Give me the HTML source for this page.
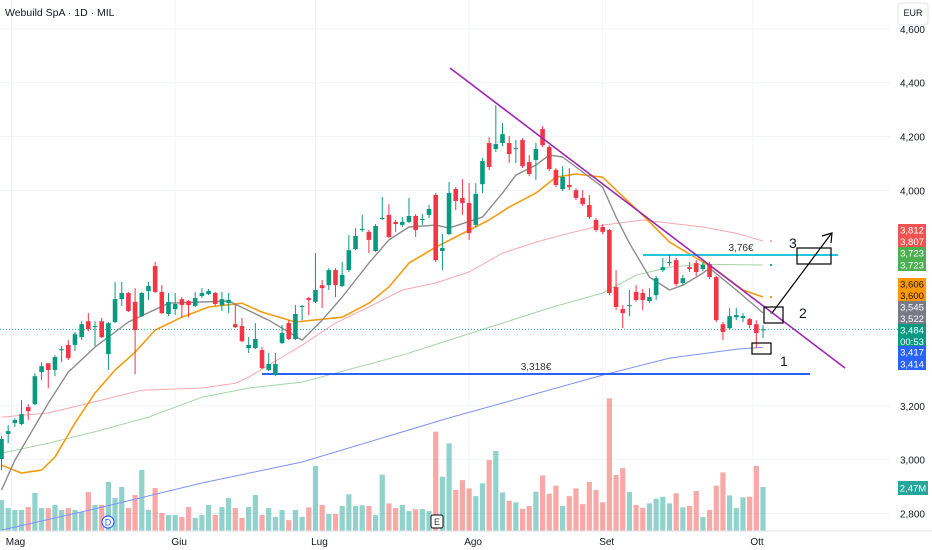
<!DOCTYPE html>
<html><head><meta charset="utf-8">
<style>
html,body{margin:0;padding:0;background:#fff;}
#wrap{position:relative;width:932px;height:550px;overflow:hidden;font-family:"Liberation Sans",sans-serif;}
svg text{font-family:"Liberation Sans",sans-serif;}
</style></head>
<body>
<div id="wrap">
<svg id="chart" width="932" height="550" viewBox="0 0 932 550"></svg>
</div>
<script>
// ---- data ----
const opens  = [3002,3095,3136,3132,3195,3206,3325,3358,3333,3407,3426,3426,3455,3514,3492,3514,3392,3511,3596,3619,3586,3533,3626,3719,3623,3541,3559,3596,3589,3571,3608,3615,3619,3574,3582,3503,3496,3414,3414,3407,3333,3314,3433,3507,3448,3567,3600,3586,3648,3648,3704,3645,3704,3782,3853,3846,3775,3894,3909,3883,3872,3883,3905,3890,3909,3983,3775,3838,4005,3972,3953,3872,4023,4176,4154,4176,4176,4154,4187,4105,4113,4228,4161,4076,4005,4020,4001,3972,3946,3890,3864,3853,3641,3559,3571,3623,3619,3589,3611,3704,3730,3741,3656,3715,3730,3708,3726,3678,3503,3488,3529,3526,3522,3503,3481];
const closes = [3077,3106,3147,3169,3180,3310,3347,3333,3381,3410,3377,3466,3503,3485,3496,3455,3507,3596,3619,3552,3481,3619,3645,3623,3544,3586,3578,3574,3574,3600,3619,3626,3578,3596,3593,3492,3440,3426,3448,3340,3355,3355,3470,3448,3541,3571,3593,3630,3637,3704,3648,3686,3778,3831,3857,3816,3868,3898,3827,3875,3883,3905,3853,3894,3931,3741,3786,3990,3961,3953,3842,3987,4109,4087,4172,4209,4135,4157,4090,4061,4154,4168,4079,4020,4050,4012,3972,3949,3901,3853,3846,3619,3567,3544,3574,3593,3593,3604,3674,3715,3734,3652,3674,3708,3697,3723,3678,3518,3474,3533,3537,3533,3500,3470,3484];
const highs  = [3088,3128,3154,3221,3206,3321,3362,3358,3388,3422,3444,3474,3514,3544,3514,3526,3511,3660,3660,3623,3637,3623,3660,3734,3648,3619,3619,3604,3593,3623,3637,3634,3623,3623,3619,3578,3526,3455,3507,3418,3396,3396,3500,3518,3574,3574,3604,3767,3667,3711,3711,3734,3834,3860,3909,3853,3875,3975,3949,3890,3901,3972,3912,3912,3946,3990,3838,4031,4012,4042,4027,4027,4120,4198,4317,4250,4202,4187,4194,4131,4176,4239,4168,4083,4090,4083,4008,4001,3983,3898,3875,3857,3704,3574,3630,3648,3634,3637,3682,3749,3760,3749,3686,3734,3741,3734,3734,3682,3511,3563,3563,3544,3526,3518,3500];
const lows   = [2961,3061,3121,3128,3147,3202,3295,3265,3310,3362,3370,3403,3444,3477,3422,3451,3333,3507,3571,3548,3318,3529,3593,3619,3541,3533,3537,3529,3529,3567,3600,3611,3571,3552,3544,3488,3436,3396,3410,3336,3329,3310,3429,3444,3444,3518,3537,3582,3563,3630,3604,3641,3697,3778,3846,3767,3771,3890,3823,3846,3864,3879,3827,3872,3898,3734,3704,3834,3927,3909,3816,3864,3990,4076,4143,4165,4102,4102,4083,4053,4038,4161,4072,4012,3998,4001,3964,3942,3894,3846,3838,3611,3555,3488,3533,3586,3555,3582,3593,3697,3719,3645,3648,3697,3682,3700,3671,3511,3444,3481,3518,3511,3488,3414,3451];
const volumes = [1.76,1.30,1.19,1.19,1.36,2.17,1.30,1.30,1.48,1.19,1.30,1.19,1.07,2.22,1.48,1.48,2.80,1.88,2.51,1.30,2.05,3.49,1.19,2.45,1.02,0.90,0.90,0.79,1.36,0.73,0.90,1.48,0.90,1.36,1.88,1.30,0.73,1.36,2.05,0.90,1.30,0.79,1.19,0.61,
1.19,0.80,1.34,3.72,1.48,0.96,0.96,1.42,2.09,1.42,1.46,1.42,0.90,3.22,1.57,1.30,1.48,1.13,1.23,1.25,1.13,5.69,3.10,5.02,2.34,2.91,2.43,1.99,2.72,4.06,4.58,2.20,1.72,1.63,1.26,1.42,2.24,3.18,2.13,2.59,1.42,1.99,2.43,1.53,2.80,2.34,1.63,7.61,3.20,3.60,2.22,1.48,1.32,1.57,1.84,1.95,1.57,2.15,1.34,1.42,2.28,0.79,1.19,2.59,3.35,2.03,1.30,1.92,1.95,3.72,2.51];
const grayIdx = [0,2,7,10,14,19,25,34,40,45,48,51,55,58,61,65,67,72,75,77,80,82,84,86,90,92,94,97,100,102,105,106,110,114];
const grayVal = [2887,2998,3210,3325,3418,3511,3581,3589,3518,3444,3518,3604,3730,3816,3864,3871,3860,3901,3990,4057,4094,4131,4124,4087,4012,3901,3804,3678,3630,3648,3693,3711,3630,3545];
const orangeIdx = [0,3,6,8,11,14,17,20,23,27,31,36,39,44,51,55,58,61,65,68,73,76,80,83,86,90,92,96,100,104,107,111,114];
const orangeVal = [2980,2950,2961,3009,3136,3247,3333,3399,3481,3529,3567,3581,3548,3511,3529,3581,3641,3730,3789,3827,3890,3938,3990,4049,4061,4049,4001,3908,3808,3749,3704,3630,3604];
const pinkIdx = [0,7,15,21,30,35,37,42,45,50,55,60,65,70,75,80,85,90,96,105,110,114];
const pinkVal = [3158,3173,3221,3258,3266,3284,3306,3381,3425,3507,3567,3630,3656,3697,3767,3808,3841,3871,3890,3864,3841,3812];
const greenIdx = [0,7,15,22,30,37,45,60,67,75,82,90,95,100,105,114];
const greenVal = [3024,3061,3110,3158,3232,3266,3288,3388,3444,3507,3563,3619,3685,3715,3726,3723];
const blueIdx = [0,15,30,45,67,90,100,110,114];
const blueVal = [2738,2823,2913,2991,3155,3314,3377,3410,3417];
const tickVals = [4600,4400,4200,4000,3200,3000,2800];
const tickLabels = ["4,600","4,400","4,200","4,000","3,200","3,000","2,800"];
const monthLabels = ["Mag","Giu","Lug","Ago","Set","Ott"];
const monthIdx = [1.5,26,47,70,90,112.5];
const supportLevel = 3318;
const targetLevel = 3760;

// ---- scales ----
const NS = "http://www.w3.org/2000/svg";
const svg = document.getElementById('chart');
function xs(i){ return 1.5 + 6.68*i; }
function ys(p){ return 374 - (p-3318)*0.2692; }
function yv(v){ return 530.7 - v*17.4; }
function mk(tag, attrs, parent){
  const e = document.createElementNS(NS, tag);
  for (const k in attrs) e.setAttribute(k, attrs[k]);
  (parent||svg).appendChild(e);
  return e;
}

// grid
const grid = mk('g', {});


tickVals.forEach(v => {
  const l = mk('line', {x1:0, x2:890, y1:ys(v), y2:ys(v), stroke:'#f0f3fa', 'stroke-width':1}, grid);
  
  
});
monthIdx.forEach(i => {
  const l = mk('line', {x1:xs(i), x2:xs(i), y1:0, y2:531, stroke:'#f0f3fa', 'stroke-width':1}, grid);
  
  
});

// volume
const volG = mk('g', {});


volumes.forEach((v, i) => {
  const up = closes[i] >= opens[i];
  const r = mk('rect', {x:xs(i)-2.6, y:yv(v), width:5.2, height:530.7-yv(v), fill: up ? 'rgba(38,166,154,0.5)' : 'rgba(239,83,80,0.5)'}, volG);
  
  
});

// moving averages
function ma(idx, vals, color, w, name){
  const pts = idx.map((i,k) => xs(i).toFixed(1)+','+ys(vals[k]).toFixed(1)).join(' ');
  const p = mk('polyline', {points:pts, fill:'none', stroke:color, 'stroke-width':w, 'stroke-linejoin':'round'});
  
  
}
ma(blueIdx, blueVal, '#7b93f5', 1, 'ma-200-line');
ma(greenIdx, greenVal, '#a5d6a7', 1, 'ma-100-line');
ma(pinkIdx, pinkVal, '#f7a8b0', 1, 'ma-50-line');
ma(orangeIdx, orangeVal, '#f39c12', 1.6, 'ma-20-line');
ma(grayIdx, grayVal, '#8c8c8c', 1.4, 'ma-10-line');

// current price dotted line
const cur = mk('line', {x1:0, x2:898, y1:ys(closes[closes.length-1]), y2:ys(closes[closes.length-1]), stroke:'#26a69a', 'stroke-width':1, 'stroke-dasharray':'1,2'});



// support & target lines
const sup = mk('line', {x1:262, x2:810, y1:ys(supportLevel), y2:ys(supportLevel), stroke:'#2962ff', 'stroke-width':2});


const supT = mk('text', {x:536, y:ys(supportLevel)-4, 'font-size':10, fill:'#333', 'text-anchor':'middle'});
supT.textContent = '3,318€';


const tgt = mk('line', {x1:643, x2:838, y1:ys(targetLevel), y2:ys(targetLevel), stroke:'#26c6da', 'stroke-width':2});


const tgtT = mk('text', {x:741, y:ys(targetLevel)-4, 'font-size':10, fill:'#333', 'text-anchor':'middle'});
tgtT.textContent = '3,76€';



// candles
const cg = mk('g', {});


opens.forEach((o, i) => {
  const c = closes[i], up = c >= o, col = up ? '#089981' : '#f23645';
  const x = xs(i);
  const w = mk('line', {x1:x, x2:x, y1:ys(highs[i]), y2:ys(lows[i]), stroke:col, 'stroke-width':1}, cg);
  
  
  const top = ys(Math.max(o,c)), bot = ys(Math.min(o,c));
  const b = mk('rect', {x:x-2.3, y:top, width:4.6, height:Math.max(1, bot-top), fill:col}, cg);
  
  
});

// trendline
const tl = mk('line', {x1:450, y1:68, x2:845, y2:368, stroke:'#9c27b0', 'stroke-width':1.6});



// MA end markers
[[pinkVal,'#f7a8b0'],[greenVal,'#26a69a'],[orangeVal,'#f39c12'],[grayVal,'#888']].forEach(a => {
  const d = mk('rect', {x:770, y:ys(a[0][a[0].length-1])-1, width:2, height:2, fill:a[1]});
  
  
});

// annotations
function box(x,y,w,h,name){
  const r = mk('rect', {x:x, y:y, width:w, height:h, fill:'none', stroke:'#000', 'stroke-width':1.2});
  
  
}
box(752,343,19,11,'annotation-box-1');
box(764,307,19,16,'annotation-box-2');
box(797,248,34,16,'annotation-box-3');
const ar = mk('line', {x1:772, y1:313, x2:831, y2:234, stroke:'#000', 'stroke-width':1.2});


const ah = mk('polyline', {points:'822,236 832,233 831,243', fill:'none', stroke:'#000', 'stroke-width':1.2});


[['1',780,366],['2',799,318],['3',789,248]].forEach(t => {
  const e = mk('text', {x:t[1], y:t[2], 'font-size':14, fill:'#131722'});
  e.textContent = t[0];
  
  
});

// event markers
const dc = mk('circle', {cx:108, cy:522, r:6, fill:'#fff', stroke:'#2962ff', 'stroke-width':1.2});


const dt = mk('text', {x:108, y:525.5, 'font-size':9, fill:'#2962ff', 'text-anchor':'middle'});
dt.textContent = 'D';


const er = mk('rect', {x:431, y:515, width:12, height:13, rx:2, fill:'#fff', stroke:'#333', 'stroke-width':1.2});


const et = mk('text', {x:437, y:525, 'font-size':9, fill:'#333', 'text-anchor':'middle'});
et.textContent = 'E';



// bottom axis
const bl = mk('line', {x1:0, x2:932, y1:531, y2:531, stroke:'#e0e3eb', 'stroke-width':1});


monthLabels.forEach((m,k) => {
  const t = mk('text', {x:xs(monthIdx[k])+4, y:545, 'font-size':10, fill:'#131722', 'text-anchor':'middle'});
  t.textContent = m;
  
  
});

// right axis
tickVals.forEach((v,k) => {
  const t = mk('text', {x:925, y:ys(v)+4, 'font-size':10, fill:'#131722', 'text-anchor':'end'});
  t.textContent = tickLabels[k];
  
  
});
const eb = mk('rect', {x:898, y:3, width:30, height:22, rx:3, fill:'#fff', stroke:'#e0e3eb'});


const ebt = mk('text', {x:913, y:16, 'font-size':9, fill:'#131722', 'text-anchor':'middle'});
ebt.textContent = 'EUR';



// price tags
const tagTexts = ['3,812','3,807','3,723','3,723','3,606','3,600','3,545','3,522','3,484','00:53','3,417','3,414'];
const tagCols = ['#f05350','#f05350','#4caf50','#4caf50','#ff9800','#ff9800','#787b86','#787b86','#089981','#089981','#2962ff','#2962ff'];
const tagY = [230,241.5,253,265,284,295.5,307,318.5,330,341.5,352,364];
tagTexts.forEach((s,k) => {
  const r = mk('rect', {x:898, y:tagY[k]-6, width:28, height:12, fill:tagCols[k]});
  
  
  const t = mk('text', {x:912, y:tagY[k]+3.5, 'font-size':9.5, fill: tagCols[k]==='#ff9800' ? '#131722' : '#fff', 'text-anchor':'middle'});
  t.textContent = s;
  
  
});
const vr = mk('rect', {x:898, y:481, width:30, height:14, fill:'#26a69a'});


const vt = mk('text', {x:913, y:491.5, 'font-size':9.5, fill:'#fff', 'text-anchor':'middle'});
vt.textContent = '2,47M';



// title
const tt = mk('text', {x:5, y:16, 'font-size':10.5, fill:'#131722'});
tt.textContent = 'Webuild SpA · 1D · MIL';


</script>
</body></html>
